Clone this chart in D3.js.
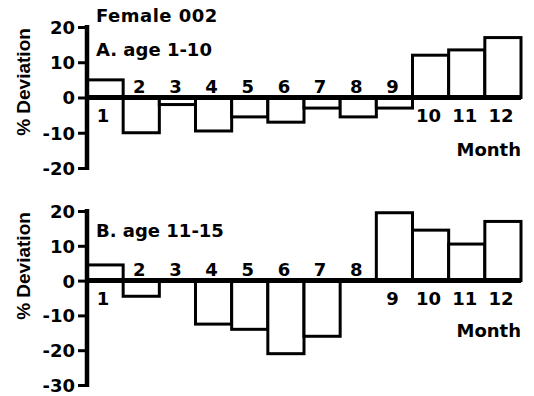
<!DOCTYPE html>
<html>
<head>
<meta charset="utf-8">
<script src="https://cdn.jsdelivr.net/npm/d3@7"></script>
<style>
  html, body { margin: 0; padding: 0; background: #fff; }
  svg text { font-family: "DejaVu Sans", "Liberation Sans", Arial, sans-serif; font-weight: bold; fill: #000; }
  svg text.ylab { font-family: "Liberation Sans", Arial, sans-serif; }
</style>
</head>
<body>
<svg id="chart" width="534" height="396"></svg>
<script>
// Monthly % deviation, Female 002
const months = [1, 2, 3, 4, 5, 6, 7, 8, 9, 10, 11, 12];
const devAge1to10 = [5, -10, -2, -9.5, -5.5, -7, -3, -5.5, -3, 12, 13.5, 17];
const devAge11to15 = [4.5, -4.5, 0, -12.5, -14, -21, -16, 0, 19.5, 14.5, 10.5, 17];
const ticksA = [20, 10, 0, -10, -20];
const ticksB = [20, 10, 0, -10, -20, -30];

const svg = d3.select("#chart");

const x = d3.scaleBand().domain(months).range([87, 521]).padding(0);

const panels = [
  { title: "A. age 1-10", values: devAge1to10, ticks: ticksA,
    y: d3.scaleLinear().domain([-20, 20]).range([168, 27]), titleY: 56, monthY: 156, ylabY: 82 },
  { title: "B. age 11-15", values: devAge11to15, ticks: ticksB,
    y: d3.scaleLinear().domain([-30, 20]).range([385, 211]), titleY: 237, monthY: 337, ylabY: 266 }
];

svg.append("text").attr("x", 96).attr("y", 22)
  .attr("font-size", 18).attr("letter-spacing", 0.5).text("Female 002");

// plain hyphen for negative tick values
const tickFmt = v => String(v);

panels.forEach(p => {
  const g = svg.append("g");
  const y = p.y;
  const y0 = y(0);

  // bars
  months.forEach((m, i) => {
    const v = p.values[i];
    if (v === 0) return;
    g.append("rect")
      .attr("x", x(m))
      .attr("y", Math.min(y(v), y0))
      .attr("width", x.bandwidth())
      .attr("height", Math.abs(y(v) - y0))
      .attr("fill", "#fff")
      .attr("stroke", "#000")
      .attr("stroke-width", 3);
  });

  // zero baseline
  g.append("line")
    .attr("x1", x.range()[0]).attr("x2", x.range()[1])
    .attr("y1", y0).attr("y2", y0)
    .attr("stroke", "#000").attr("stroke-width", 5);

  // y axis
  const axis = d3.axisLeft(y).tickValues(p.ticks).tickSize(9).tickFormat(tickFmt);
  const ag = g.append("g").attr("transform", `translate(${x.range()[0]},0)`).call(axis);
  ag.select(".domain").remove();
  ag.selectAll(".tick line").attr("stroke", "#000").attr("stroke-width", 3);
  ag.selectAll(".tick text").attr("font-size", 18).attr("font-family", null)
    .attr("dy", "0.36em").attr("x", -12);
  const d = y.domain();
  g.append("line")
    .attr("x1", x.range()[0]).attr("x2", x.range()[0])
    .attr("y1", y(d[1]) - 2).attr("y2", y(d[0]) + 2)
    .attr("stroke", "#000").attr("stroke-width", 4.5);

  // month labels: above the baseline for negative/zero bars, below for positive
  g.selectAll(".mlab").data(months).enter().append("text")
    .attr("x", m => x(m) + x.bandwidth() / 2 - 2)
    .attr("y", (m, i) => p.values[i] > 0 ? y0 + 24 : y0 - 5)
    .attr("text-anchor", "middle")
    .attr("font-size", 18)
    .text(m => m);

  g.append("text").attr("x", 96).attr("y", p.titleY)
    .attr("font-size", 18).text(p.title);

  g.append("text").attr("x", 521).attr("y", p.monthY)
    .attr("text-anchor", "end").attr("font-size", 18).text("Month");

  g.append("text").attr("class", "ylab")
    .attr("transform", `translate(30,${p.ylabY}) rotate(-90)`)
    .attr("text-anchor", "middle").attr("font-size", 19)
    .text("% Deviation");
});
</script>
</body>
</html>
